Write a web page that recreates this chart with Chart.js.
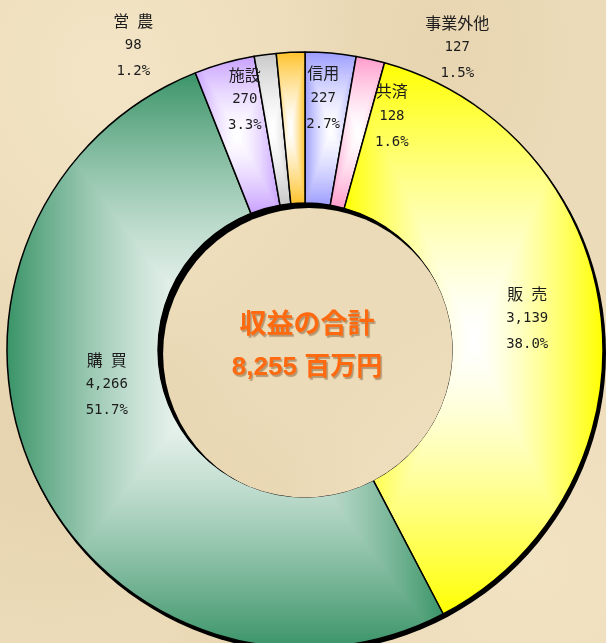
<!DOCTYPE html>
<html lang="ja">
<head>
<meta charset="utf-8">
<script src="https://cdn.jsdelivr.net/npm/chart.js@4.4.1/dist/chart.umd.min.js"></script>
<style>
  html, body { margin: 0; padding: 0; width: 606px; height: 643px; overflow: hidden; }
  body {
    background-color: #ecdbb8;
    background-image:
      radial-gradient(ellipse at 18% 12%, rgba(250, 240, 214, 0.45), transparent 35%),
      radial-gradient(ellipse at 88% 88%, rgba(250, 238, 212, 0.4), transparent 35%),
      radial-gradient(ellipse at 8% 70%, rgba(214, 192, 152, 0.3), transparent 30%),
      radial-gradient(ellipse at 72% 8%, rgba(218, 196, 156, 0.25), transparent 25%),
      radial-gradient(ellipse at 45% 95%, rgba(216, 194, 154, 0.25), transparent 25%);
  }
  #contenedor { position: relative; width: 606px; height: 660px; }
</style>
</head>
<body>
<div id="contenedor"><canvas id="shueki"></canvas></div>
<script>
// datos del gráfico (百万円), en sentido horario desde arriba
const categorias = ['信用', '共済', '販\u2002売', '購\u2002買', '施設', '営\u2002農', '事業外他'];
const valores = [227, 128, 3139, 4266, 270, 98, 127];
const colores = ['#9c9cff', '#ff9acb', '#ffff00', '#3a9468', '#c8a0ff', '#c8c8c8', '#ffc22a'];
const tituloCentro = '収益の合計';
const unidad = '百万円';

const total = valores.reduce((a, b) => a + b, 0);

// desplazamiento de cada etiqueta respecto al centro del sector
const desplazamientos = [[-1, -30], [38, -17], [1, -8], [4, -58], [0, -36], [-142, -84], [163, -80]];

function hexARgb(hex) {
  const n = parseInt(hex.slice(1), 16);
  return [(n >> 16) & 255, (n >> 8) & 255, n & 255];
}

// degradado "desde el centro" tipo Excel sobre el rectángulo del sector
function degradado(bx, by, bw, bh, color) {
  const c = document.createElement('canvas');
  c.width = bw; c.height = bh;
  const g = c.getContext('2d');
  const img = g.createImageData(bw, bh);
  const [r, gr, b] = hexARgb(color);
  const hw = bw / 2, hh = bh / 2;
  for (let j = 0; j < bh; j++) {
    for (let i = 0; i < bw; i++) {
      let t = Math.max(Math.abs(i + 0.5 - hw) / hw, Math.abs(j + 0.5 - hh) / hh);
      t = Math.pow(Math.min(t, 1), 1.4);
      const k = (j * bw + i) * 4;
      img.data[k] = 255 + (r - 255) * t;
      img.data[k + 1] = 255 + (gr - 255) * t;
      img.data[k + 2] = 255 + (b - 255) * t;
      img.data[k + 3] = 255;
    }
  }
  g.putImageData(img, 0, 0);
  return c;
}

function cajaSector(arc) {
  const {x, y, startAngle, endAngle, innerRadius, outerRadius} = arc;
  const pts = [];
  [startAngle, endAngle].forEach(a => {
    pts.push([x + Math.cos(a) * outerRadius, y + Math.sin(a) * outerRadius]);
    pts.push([x + Math.cos(a) * innerRadius, y + Math.sin(a) * innerRadius]);
  });
  const q = Math.PI / 2;
  for (let k = Math.ceil(startAngle / q); k * q <= endAngle; k++) {
    pts.push([x + Math.cos(k * q) * outerRadius, y + Math.sin(k * q) * outerRadius]);
  }
  const xs = pts.map(p => p[0]), ys = pts.map(p => p[1]);
  const x0 = Math.floor(Math.min(...xs)), y0 = Math.floor(Math.min(...ys));
  const x1 = Math.ceil(Math.max(...xs)), y1 = Math.ceil(Math.max(...ys));
  return [x0, y0, Math.max(x1 - x0, 1), Math.max(y1 - y0, 1)];
}

function trazarSector(ctx, arc) {
  ctx.beginPath();
  ctx.arc(arc.x, arc.y, arc.outerRadius, arc.startAngle, arc.endAngle);
  ctx.arc(arc.x, arc.y, arc.innerRadius, arc.endAngle, arc.startAngle, true);
  ctx.closePath();
}

const anillo = {
  id: 'anillo',
  beforeDatasetsDraw(chart) {
    const a0 = chart.getDatasetMeta(0).data[0];
    const ctx = chart.ctx;
    // sombra del borde exterior
    ctx.save();
    ctx.fillStyle = '#000';
    ctx.beginPath();
    ctx.arc(a0.x + 2, a0.y + 3, a0.outerRadius + 1, 0, Math.PI * 2);
    ctx.fill();
    ctx.restore();
  },
  afterDatasetsDraw(chart) {
    const ctx = chart.ctx;
    const arcs = chart.getDatasetMeta(0).data;

    arcs.forEach((arc, i) => {
      const [bx, by, bw, bh] = cajaSector(arc);
      ctx.save();
      trazarSector(ctx, arc);
      ctx.clip();
      ctx.drawImage(degradado(bx, by, bw, bh, colores[i]), bx, by);
      ctx.restore();
      ctx.save();
      trazarSector(ctx, arc);
      ctx.lineWidth = 1.5;
      ctx.strokeStyle = '#000';
      ctx.lineJoin = 'round';
      ctx.stroke();
      ctx.restore();
    });

    // borde grueso del hueco central
    const a0 = arcs[0];
    ctx.save();
    ctx.beginPath();
    ctx.arc(a0.x, a0.y, a0.innerRadius + 0.5, 0, Math.PI * 2);
    ctx.clip();
    ctx.fillStyle = '#000';
    ctx.fill();
    ctx.globalCompositeOperation = 'destination-out';
    ctx.beginPath();
    ctx.arc(a0.x + 4, a0.y + 4, a0.innerRadius - 1, 0, Math.PI * 2);
    ctx.fill();
    ctx.restore();

    // etiquetas: nombre, valor, porcentaje
    ctx.save();
    ctx.fillStyle = '#1c1c1c';
    ctx.textAlign = 'center';
    ctx.textBaseline = 'middle';
    arcs.forEach((arc, i) => {
      const p = arc.tooltipPosition();
      const lx = p.x + desplazamientos[i][0];
      const ly = p.y + desplazamientos[i][1];
      const pct = (valores[i] / total * 100).toFixed(1) + '%';
      ctx.font = '16px "Noto Sans CJK JP", sans-serif';
      ctx.fillText(categorias[i], lx, ly - 25);
      ctx.font = '14px "DejaVu Sans Mono", monospace';
      ctx.fillText(valores[i].toLocaleString('en-US'), lx, ly);
      ctx.fillText(pct, lx, ly + 26);
    });
    ctx.restore();

    // texto del centro
    ctx.save();
    ctx.textAlign = 'center';
    ctx.textBaseline = 'middle';
    ctx.fillStyle = '#ff6a10';
    ctx.shadowColor = 'rgba(110, 70, 30, 0.45)';
    ctx.shadowOffsetX = 1.5;
    ctx.shadowOffsetY = 1.5;
    ctx.shadowBlur = 1;
    ctx.font = 'bold 27px "Noto Sans CJK JP", sans-serif';
    ctx.fillText(tituloCentro, a0.x + 2, a0.y - 27);
    ctx.font = 'bold 26px "Liberation Sans", "Noto Sans CJK JP", sans-serif';
    ctx.fillText(total.toLocaleString('en-US') + ' ' + unidad, a0.x + 2, a0.y + 18);
    ctx.restore();
  }
};

const ctx = document.getElementById('shueki').getContext('2d');
const chart_shueki = new Chart(ctx, {
  type: 'doughnut',
  data: {
    labels: categorias,
    datasets: [{
      data: valores,
      backgroundColor: colores,
      borderWidth: 0
    }]
  },
  options: {
    responsive: true,
    maintainAspectRatio: false,
    animation: false,
    events: [],
    cutout: '49.3%',
    layout: { padding: { top: 52, left: 7, right: 3, bottom: 12 } },
    plugins: {
      legend: { display: false },
      tooltip: { enabled: false }
    }
  },
  plugins: [anillo]
});
</script>
</body>
</html>
